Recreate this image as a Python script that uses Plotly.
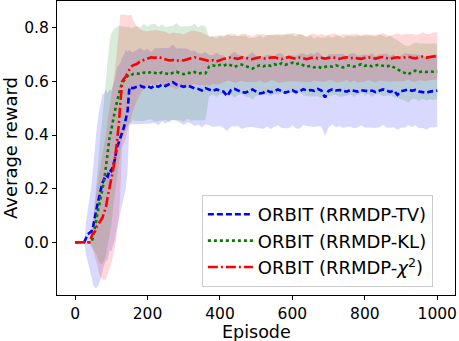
import numpy as np
import plotly.graph_objects as go

# Episode grid: every 5 episodes during the ramp-up, then every 10.
episodes = list(range(0, 160, 5)) + list(range(160, 1001, 10))

# ORBIT (RRMDP-TV)
tv_mean = [0, 0, 0, 0, 0, 0, 0.015, 0.03, 0.035, 0.04, 0.06, 0.1, 0.13, 0.16, 0.19, 0.22,
           0.235, 0.25, 0.245, 0.27, 0.265, 0.29, 0.31, 0.35, 0.37, 0.39, 0.41, 0.43, 0.46,
           0.49, 0.578, 0.575] + \
          [0.575, 0.58, 0.583, 0.578, 0.582, 0.576, 0.585, 0.58, 0.588, 0.583,
           0.59, 0.597, 0.588, 0.585, 0.58, 0.585, 0.578, 0.574, 0.572, 0.566,
           0.575, 0.568, 0.564, 0.57, 0.566, 0.562, 0.545, 0.567, 0.572, 0.566,
           0.56, 0.558, 0.565, 0.57, 0.562, 0.555, 0.558, 0.566, 0.56, 0.563,
           0.57, 0.565, 0.558, 0.562, 0.567, 0.56, 0.563, 0.571, 0.566, 0.568,
           0.565, 0.572, 0.566, 0.54, 0.565, 0.57, 0.566, 0.568, 0.564, 0.562,
           0.568, 0.565, 0.562, 0.567, 0.565, 0.563, 0.566, 0.56, 0.565, 0.57,
           0.566, 0.561, 0.566, 0.55, 0.563, 0.566, 0.57, 0.565, 0.568, 0.562,
           0.56, 0.558, 0.562, 0.564, 0.566]
tv_std = [0, 0, 0, 0, 0, 0, 0.06, 0.1, 0.13, 0.17, 0.22, 0.27, 0.3, 0.32, 0.33, 0.33,
          0.32, 0.32, 0.31, 0.3, 0.3, 0.3, 0.3, 0.3, 0.29, 0.28, 0.28, 0.27, 0.26,
          0.22, 0.14, 0.135] + \
         [0.135, 0.138, 0.142, 0.136, 0.14, 0.133, 0.139, 0.144, 0.137, 0.141,
          0.136, 0.14, 0.134, 0.139, 0.143, 0.137, 0.135, 0.14, 0.133, 0.138,
          0.136, 0.131, 0.134, 0.138, 0.132, 0.136, 0.13, 0.135, 0.139, 0.133,
          0.137, 0.131, 0.135, 0.14, 0.134, 0.13, 0.136, 0.133, 0.138, 0.132,
          0.135, 0.139, 0.133, 0.137, 0.131, 0.136, 0.14, 0.134, 0.132, 0.137,
          0.135, 0.139, 0.133, 0.145, 0.136, 0.131, 0.137, 0.134, 0.138, 0.132,
          0.136, 0.14, 0.134, 0.131, 0.137, 0.135, 0.139, 0.133, 0.136, 0.132,
          0.138, 0.134, 0.137, 0.131, 0.135, 0.139, 0.133, 0.136, 0.132, 0.137,
          0.134, 0.138, 0.133, 0.136, 0.135]

# ORBIT (RRMDP-KL)
kl_mean = [0, 0, 0, 0, 0, 0, 0, 0, 0, 0, 0.02, 0.06, 0.1, 0.13, 0.16, 0.19, 0.23, 0.28,
           0.34, 0.39, 0.42, 0.46, 0.49, 0.52, 0.55, 0.575, 0.595, 0.605, 0.612, 0.62,
           0.625, 0.622] + \
          [0.628, 0.63, 0.627, 0.633, 0.63, 0.636, 0.632, 0.628, 0.634, 0.63,
           0.626, 0.632, 0.636, 0.63, 0.627, 0.633, 0.63, 0.635, 0.628, 0.632, 0.63,
           0.655, 0.66, 0.656, 0.662, 0.658, 0.665, 0.66, 0.654, 0.66, 0.663,
           0.657, 0.652, 0.648, 0.655, 0.66, 0.656, 0.662, 0.658, 0.664, 0.66,
           0.668, 0.662, 0.666, 0.67, 0.664, 0.668, 0.66, 0.655, 0.658, 0.652,
           0.656, 0.65, 0.654, 0.658, 0.655, 0.66, 0.656, 0.652, 0.658, 0.66,
           0.655, 0.66, 0.664, 0.658, 0.662, 0.656, 0.66, 0.663, 0.658, 0.655,
           0.66, 0.652,
           0.645, 0.638, 0.632, 0.626, 0.636, 0.64, 0.634, 0.638, 0.635, 0.637,
           0.636, 0.637]
kl_std = [0, 0, 0, 0, 0, 0, 0, 0, 0, 0.02, 0.05, 0.1, 0.15, 0.2, 0.24, 0.27, 0.3, 0.33,
          0.35, 0.36, 0.36, 0.33, 0.31, 0.28, 0.26, 0.23, 0.21, 0.2, 0.19, 0.185,
          0.18, 0.175] + \
         [0.172, 0.178, 0.175, 0.181, 0.174, 0.177, 0.183, 0.176, 0.179, 0.173,
          0.18, 0.176, 0.182, 0.175, 0.178, 0.172, 0.177, 0.18, 0.174, 0.178, 0.175,
          0.112, 0.108, 0.114, 0.11, 0.107, 0.113, 0.109, 0.115, 0.111, 0.108,
          0.113, 0.11, 0.116, 0.109, 0.112, 0.107, 0.111, 0.114, 0.108, 0.112,
          0.109, 0.113, 0.107, 0.111, 0.115, 0.108, 0.112, 0.11, 0.114, 0.108,
          0.111, 0.113, 0.109, 0.112, 0.107, 0.111, 0.114, 0.109, 0.112, 0.108,
          0.113, 0.11, 0.107, 0.112, 0.109, 0.114, 0.108, 0.111, 0.113, 0.109,
          0.112, 0.11,
          0.108, 0.105, 0.103, 0.106, 0.102, 0.105, 0.107, 0.103, 0.106, 0.104,
          0.105, 0.104]

# ORBIT (RRMDP-chi^2)
chi_mean = [0, 0, 0, 0, 0, 0, 0, 0, 0, 0.02, 0.035, 0.04, 0.06, 0.07, 0.08, 0.09, 0.11,
            0.13, 0.17, 0.2, 0.23, 0.27, 0.31, 0.37, 0.43, 0.52, 0.6, 0.61, 0.618, 0.632,
            0.645, 0.655] + \
           [0.66, 0.665, 0.675, 0.68, 0.685, 0.69, 0.688, 0.692, 0.686, 0.682,
            0.678, 0.68, 0.676, 0.68, 0.678, 0.683, 0.687, 0.69, 0.686, 0.684,
            0.68, 0.676, 0.679, 0.674, 0.68, 0.684, 0.687, 0.69, 0.686, 0.684,
            0.69, 0.688, 0.685, 0.683, 0.687, 0.69, 0.686, 0.684, 0.689, 0.69,
            0.686, 0.683, 0.688, 0.691, 0.687, 0.684, 0.689, 0.686, 0.683, 0.687,
            0.69, 0.686, 0.688, 0.685, 0.689, 0.691, 0.687, 0.684, 0.688, 0.69,
            0.686, 0.689, 0.686, 0.684, 0.688, 0.69, 0.687, 0.685, 0.689, 0.691,
            0.687, 0.684, 0.688, 0.69, 0.687, 0.689, 0.692, 0.688, 0.686, 0.69,
            0.693, 0.689, 0.691, 0.694, 0.695]
chi_std = [0, 0, 0, 0, 0, 0, 0, 0, 0, 0.03, 0.06, 0.1, 0.14, 0.18, 0.21, 0.23, 0.25,
           0.27, 0.29, 0.3, 0.31, 0.32, 0.33, 0.34, 0.35, 0.33, 0.25, 0.24, 0.23, 0.215,
           0.205, 0.195] + \
          [0.17, 0.14, 0.12, 0.108, 0.102, 0.1, 0.104, 0.098, 0.101, 0.103,
           0.099, 0.102, 0.105, 0.1, 0.097, 0.101, 0.103, 0.099, 0.1, 0.098,
           0.096, 0.092,
           0.089, 0.086, 0.09, 0.087, 0.085, 0.089, 0.091, 0.086, 0.088, 0.09,
           0.087, 0.085, 0.089, 0.086, 0.09, 0.088, 0.085, 0.087, 0.091, 0.086,
           0.088, 0.09, 0.086, 0.084, 0.089, 0.087, 0.085, 0.09, 0.088, 0.086,
           0.089, 0.087, 0.085, 0.088, 0.091, 0.086, 0.088, 0.085, 0.089, 0.087,
           0.09, 0.086, 0.088, 0.085, 0.087, 0.089, 0.086, 0.09, 0.088, 0.085,
           0.087, 0.09, 0.086, 0.088, 0.085, 0.089, 0.087, 0.086, 0.09, 0.088,
           0.086, 0.089, 0.087]

series = [
    ("ORBIT (RRMDP-TV)", tv_mean, tv_std, "rgb(0,0,255)", "6px,3px"),
    ("ORBIT (RRMDP-KL)", kl_mean, kl_std, "rgb(0,128,0)", "dot"),
    ("ORBIT (RRMDP-<i>χ</i><sup>2</sup>)", chi_mean, chi_std, "rgb(255,0,0)", "10px,3px,2px,3px"),
]

fig = go.Figure()

# Shaded bands (mean +/- std) first, lines on top.
for name, mean, std, color, dash in series:
    mean = np.array(mean)
    std = np.array(std)
    fill = color.replace("rgb", "rgba").replace(")", ",0.15)")
    fig.add_trace(go.Scatter(x=episodes, y=mean + std, mode="lines",
                             line=dict(width=0), showlegend=False, hoverinfo="skip"))
    fig.add_trace(go.Scatter(x=episodes, y=mean - std, mode="lines",
                             line=dict(width=0), fill="tonexty", fillcolor=fill,
                             showlegend=False, hoverinfo="skip"))

for i, (name, mean, std, color, dash) in enumerate(series):
    fig.add_trace(go.Scatter(x=episodes, y=mean, mode="lines", name=name,
                             legendgroup=f"g{i}",
                             line=dict(color=color, width=2.6, dash=dash)))

axis_style = dict(showline=True, mirror=True, linecolor="black", linewidth=1.2,
                  ticks="outside", ticklen=4, tickcolor="black", showgrid=False,
                  zeroline=False, automargin=False,
                  tickfont=dict(size=15.5, color="black"))

fig.update_layout(
    width=459, height=341,
    margin=dict(l=57, r=4, t=1, b=46),
    plot_bgcolor="white", paper_bgcolor="white",
    font=dict(family="DejaVu Sans", color="black"),
    xaxis=dict(range=[-50, 1049], tickvals=[0, 200, 400, 600, 800, 1000], **axis_style),
    yaxis=dict(range=[-0.197, 0.9], tickvals=[0, 0.2, 0.4, 0.6, 0.8], tickformat=".1f",
               title=dict(text="Average reward", font=dict(size=18), standoff=4), **axis_style),
    legend=dict(x=0.364, y=0.027, xanchor="left", yanchor="bottom", traceorder="normal",
                bgcolor="rgba(255,255,255,0.8)", bordercolor="#cccccc", borderwidth=1,
                font=dict(size=18), itemwidth=45, tracegroupgap=5),
    showlegend=True,
)

# x-axis title placed below the tick labels
fig.add_annotation(text="Episode", xref="paper", yref="paper", x=0.5, y=-0.125,
                   xanchor="center", yanchor="middle", showarrow=False,
                   font=dict(size=17.5, color="black"))

# Drop the browser's default body margin so the figure sits at the page corner.
fig.write_html("out.html", config={"displayModeBar": False},
               post_script="document.body.style.margin='0';document.body.style.overflow='hidden';")
